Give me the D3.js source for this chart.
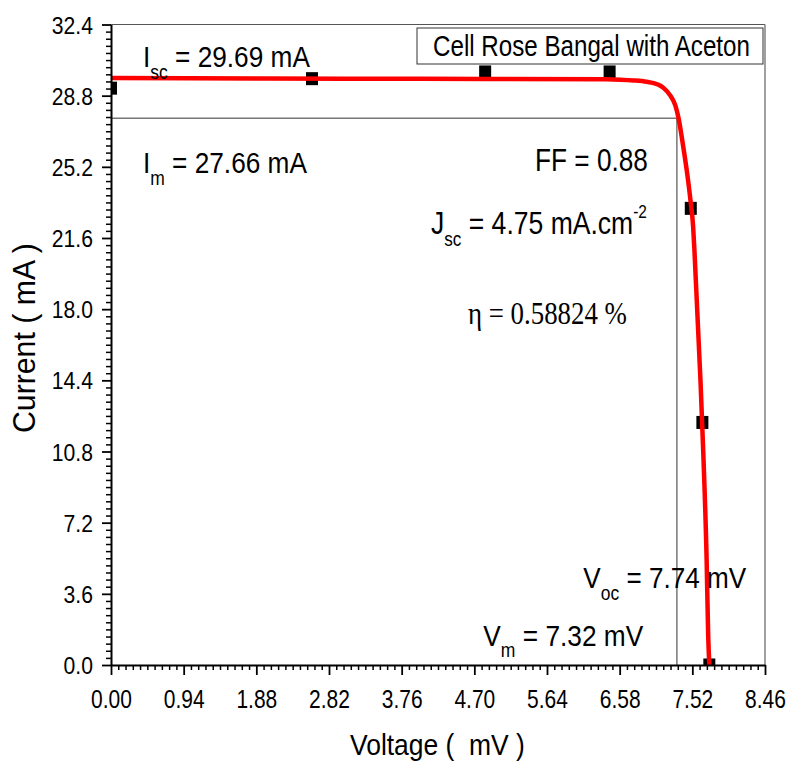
<!DOCTYPE html>
<html>
<head>
<meta charset="utf-8">
<script src="https://cdn.jsdelivr.net/npm/d3@7"></script>
<style>
  html, body { margin: 0; padding: 0; background: #fff; }
  svg { display: block; }
  text { white-space: pre; }
</style>
</head>
<body>
<svg id="chart" width="789" height="765"></svg>
<script>
// Measured I–V points (voltage in mV, current in mA)
const voltage = [0, 2.60, 4.84, 6.45, 7.50, 7.65, 7.74];
const current = [29.18, 29.66, 30.0, 30.0, 23.10, 12.27, 0];

// Fitted I–V curve traced along its path
const fitVoltage = [0, 2.0, 4.0, 6.40, 6.59, 6.76, 6.93, 7.02, 7.107, 7.15, 7.236, 7.301, 7.344, 7.388, 7.452, 7.495, 7.530, 7.547, 7.625, 7.665, 7.705, 7.725, 7.74];
const fitCurrent = [29.69, 29.67, 29.65, 29.63, 29.61, 29.57, 29.50, 29.43, 29.30, 29.18, 28.80, 28.30, 27.62, 26.58, 24.90, 23.54, 22.19, 20.99, 14.43, 10.38, 5.32, 1.5, 0];

// Maximum power point
const Vm = 7.32, Im = 27.66;

// Axis ticks
const xTicks = [0, 0.94, 1.88, 2.82, 3.76, 4.70, 5.64, 6.58, 7.52, 8.46];
const yTicks = [0, 3.6, 7.2, 10.8, 14.4, 18.0, 21.6, 25.2, 28.8, 32.4];

const svg = d3.select("#chart");
const plotLeft = 111, plotRight = 765, plotTop = 24.5, plotBottom = 665;

const x = d3.scaleLinear().domain([0, 8.46]).range([plotLeft, plotRight]);
const y = d3.scaleLinear().domain([0, 32.4]).range([plotBottom, plotTop]);

const sans = "'Liberation Sans', Arial, Helvetica, sans-serif";
const serif = "'Liberation Serif', 'Times New Roman', serif";

// Clip marks to the plotting area
svg.append("defs").append("clipPath").attr("id", "plotClip")
  .append("rect").attr("x", plotLeft).attr("y", plotTop)
  .attr("width", plotRight - plotLeft).attr("height", plotBottom - plotTop);

// Frame (top and right)
svg.append("line").attr("x1", plotLeft).attr("x2", plotRight).attr("y1", plotTop).attr("y2", plotTop)
  .attr("stroke", "#555").attr("stroke-width", 1.2);
svg.append("line").attr("x1", plotRight).attr("x2", plotRight).attr("y1", plotTop).attr("y2", plotBottom)
  .attr("stroke", "#777").attr("stroke-width", 1.4);

// Max power rectangle guides
svg.append("line").attr("x1", x(0)).attr("x2", x(Vm)).attr("y1", y(Im)).attr("y2", y(Im))
  .attr("stroke", "#777").attr("stroke-width", 1.5);
svg.append("line").attr("x1", x(Vm)).attr("x2", x(Vm)).attr("y1", y(Im)).attr("y2", y(0))
  .attr("stroke", "#777").attr("stroke-width", 1.5);

// Data squares
const plot = svg.append("g").attr("clip-path", "url(#plotClip)");
plot.selectAll("rect.pt").data(voltage.map((v, i) => [v, current[i]]))
  .join("rect").attr("class", "pt")
  .attr("x", d => x(d[0]) - 6).attr("y", d => y(d[1]) - 6.5)
  .attr("width", 12).attr("height", 13).attr("fill", "#000");

// Fitted curve
const line = d3.line().x(d => x(d[0])).y(d => y(d[1])).curve(d3.curveMonotoneX);
plot.append("path").datum(fitVoltage.map((v, i) => [v, fitCurrent[i]]))
  .attr("d", line).attr("fill", "none").attr("stroke", "#ff0000")
  .attr("stroke-width", 4.5).attr("stroke-linejoin", "round");

// Axes
const minorX = d3.range(0, 90).map(i => i * 0.094).filter((v, i) => i % 10 !== 0);
const minorY = d3.range(0, 90).map(i => i * 0.36).filter((v, i) => i % 10 !== 0);

function styleAxis(g) {
  g.attr("font-family", sans);
  g.select(".domain").attr("stroke", "#000").attr("stroke-width", 2);
  g.selectAll(".tick line").attr("stroke", "#000").attr("stroke-width", 1.8);
}

const gx = svg.append("g").attr("transform", `translate(0,${plotBottom})`);
gx.append("g").call(d3.axisBottom(x).tickValues(minorX).tickSize(5).tickSizeOuter(0).tickFormat(""))
  .call(g => { g.select(".domain").remove(); g.selectAll(".tick line").attr("stroke", "#000").attr("stroke-width", 1.5); });
gx.append("g").call(d3.axisBottom(x).tickValues(xTicks).tickSize(10).tickSizeOuter(0).tickPadding(15).tickFormat(d3.format(".2f")))
  .call(styleAxis)
  .call(g => g.selectAll(".tick text").attr("font-size", 25).attr("fill", "#000")
    .attr("transform", "scale(0.84,1)"));

const gy = svg.append("g").attr("transform", `translate(${plotLeft},0)`);
gy.append("g").call(d3.axisLeft(y).tickValues(minorY).tickSize(5).tickSizeOuter(0).tickFormat(""))
  .call(g => { g.select(".domain").remove(); g.selectAll(".tick line").attr("stroke", "#000").attr("stroke-width", 1.5); });
gy.append("g").call(d3.axisLeft(y).tickValues(yTicks).tickSize(9).tickSizeOuter(0).tickPadding(9).tickFormat(d3.format(".1f")))
  .call(styleAxis)
  .call(g => g.selectAll(".tick text").attr("font-size", 23).attr("fill", "#000")
    .attr("x", -18 / 0.92).attr("dy", "0.37em").attr("transform", "scale(0.92,1)"));

// Text label squeezed horizontally to a given width
function label(opts, build) {
  const g = svg.append("g");
  const t = g.append("text").attr("font-family", opts.family || sans)
    .attr("font-size", opts.size).attr("fill", "#000").attr("x", 0).attr("y", 0);
  build(t);
  const w = t.node().getBBox().width;
  const s = opts.width / w;
  g.attr("transform", `translate(${opts.x},${opts.y})` + (opts.rotate ? ` rotate(${opts.rotate})` : "") + ` scale(${s},1)`);
  return g;
}
function sub(t, main, subText, rest, dy, subSize) {
  t.append("tspan").text(main);
  t.append("tspan").attr("font-size", subSize || 20).attr("dy", dy).text(subText);
  t.append("tspan").attr("dy", -dy).text(rest);
}

// Legend
svg.append("rect").attr("x", 417).attr("y", 28).attr("width", 346).attr("height", 36)
  .attr("fill", "#fff").attr("stroke", "#333").attr("stroke-width", 1);
label({ x: 433, y: 56, width: 317, size: 29 }, t => t.text("Cell Rose Bangal with Aceton"));

// Annotations
label({ x: 143, y: 66.7, width: 167, size: 30 }, t => sub(t, "I", "sc", " = 29.69 mA", 12));
label({ x: 143, y: 173.3, width: 164, size: 30 }, t => sub(t, "I", "m", " = 27.66 mA", 12));
label({ x: 535, y: 171, width: 113, size: 31 }, t => t.text("FF = 0.88"));
label({ x: 431, y: 234.3, width: 216, size: 31 }, t => {
  sub(t, "J", "sc", " = 4.75 mA.cm", 12);
  t.append("tspan").attr("font-size", 18).attr("dy", -16).text("-2");
});
label({ x: 468, y: 324, width: 159, size: 32, family: serif }, t => t.text("η = 0.58824 %"));
label({ x: 583.3, y: 588.3, width: 163, size: 30 }, t => sub(t, "V", "oc", " = 7.74 mV", 12));
label({ x: 483.3, y: 646, width: 160, size: 30 }, t => sub(t, "V", "m", " = 7.32 mV", 11));

// Axis titles
label({ x: 350, y: 755, width: 175, size: 30 }, t => t.text("Voltage (  mV )"));
label({ x: 35, y: 433, width: 190, size: 32, rotate: -90 }, t => t.text("Current ( mA )"));
</script>
</body>
</html>
